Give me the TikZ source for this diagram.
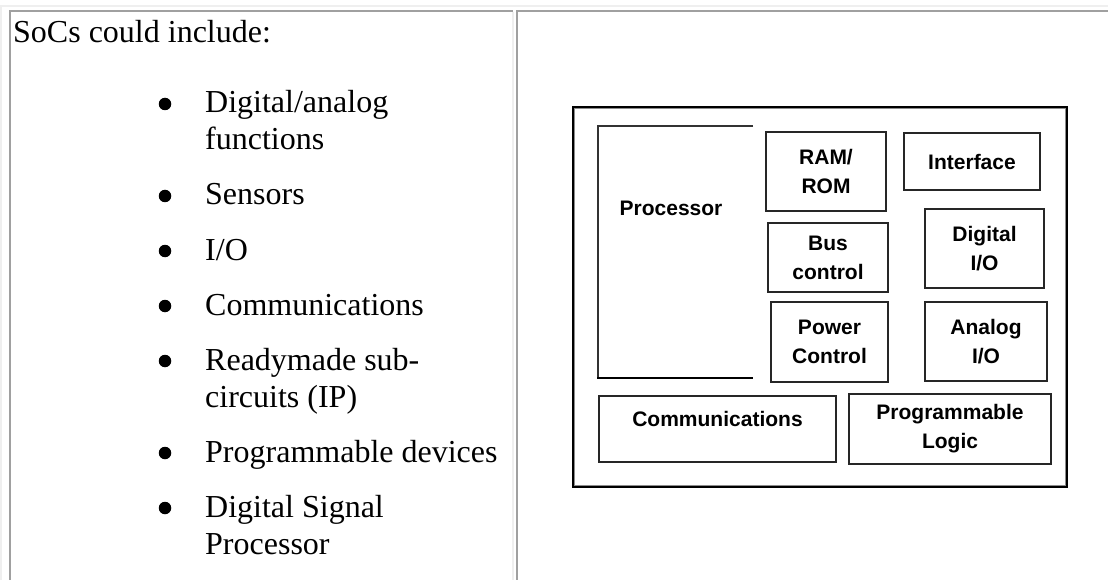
\documentclass[tikz,border=0pt]{standalone}
\usepackage{fontspec}
\setmainfont{Liberation Serif}
\newfontfamily\chipfont{Liberation Sans}
\usepackage{tikz}
\usetikzlibrary{positioning}
\definecolor{celldark}{HTML}{A0A0A0}
\definecolor{celllight}{HTML}{EFEFEF}

\begin{document}
\begin{tikzpicture}[x=1pt,y=-1pt,
  every node/.append style={inner sep=0pt},
  listtext/.style={anchor=base west,font=\fontsize{32}{37}\selectfont},
  dot/.style={circle,fill=black,minimum size=12.5pt},
  blk/.style={draw=black!85,line width=1.3pt,align=center,
    font=\chipfont\bfseries\fontsize{21}{29}\selectfont},
  blklabel/.style={align=center,font=\chipfont\bfseries\fontsize{21}{29}\selectfont}]
\fill[white] (0,0) rectangle (1108,580);
\path[use as bounding box] (0,0) rectangle (1108,580);
% table cells
\draw[celllight,line width=2pt] (1,580) -- (1,6) -- (1108,6);
\draw[celldark,line width=2pt] (10,580) -- (10,11) -- (513,11);
\draw[celllight,line width=2pt] (513,12) -- (513,580);
\draw[celldark,line width=2pt] (517,580) -- (517,11) -- (1108,11);
% left cell
\node[listtext] (head) at (13,43) {SoCs could include:};
\node[dot] (b1) at (165,104) {};
\node[listtext] (da1) at (205,113) {Digital/analog};
\node[listtext] (da2) at (205,150) {functions};
\node[dot] (b2) at (165,196) {};
\node[listtext] (sens) at (205,205) {Sensors};
\node[dot] (b3) at (165,251) {};
\node[listtext] (io) at (205,260) {I/O};
\node[dot] (b4) at (165,306) {};
\node[listtext] (comms) at (205,315) {Communications};
\node[dot] (b5) at (165,361) {};
\node[listtext] (rs1) at (205,370) {Readymade sub-};
\node[listtext] (rs2) at (205,407) {circuits (IP)};
\node[dot] (b6) at (165,453) {};
\node[listtext] (pdev) at (205,462) {Programmable devices};
\node[dot] (b7) at (165,508) {};
\node[listtext] (dsp1) at (205,517) {Digital Signal};
\node[listtext] (dsp2) at (205,554) {Processor};
% right cell: the chip
\draw[line width=2pt] (573,107) rectangle (1067,487);
\draw[black!45,line width=1pt] (574.9,108.9) rectangle (1065.1,485.1);
\draw[black!80,line width=1.2pt] (753,126) -- (598,126) -- (598,378);
\draw[line width=2.6pt] (597.4,378) -- (753,378);
\node[blklabel] (proc) at (671,208) {Processor};
\node[blk,minimum width=120pt,minimum height=79pt] (ram) at (826,171.5) {RAM/\\ROM};
\node[blk,minimum width=136pt,minimum height=57pt] (iface) at (972,161.5) {Interface};
\node[blk,minimum width=120pt,minimum height=69pt] (bus) at (828,257.5) {Bus\\control};
\node[blk,minimum width=119pt,minimum height=79pt] (dig) at (984.5,248.5) {Digital\\I/O};
\node[blk,minimum width=117pt,minimum height=80pt] (pwr) at (829.5,342) {Power\\Control};
\node[blk,minimum width=122pt,minimum height=79pt] (ana) at (986,341.5) {Analog\\I/O};
\node[blk,minimum width=237pt,minimum height=66pt,text depth=20pt] (comm) at (717.5,429) {Communications};
\node[blk,minimum width=202pt,minimum height=70pt] (plog) at (950,429) {Programmable\\Logic};
\end{tikzpicture}
\end{document}
